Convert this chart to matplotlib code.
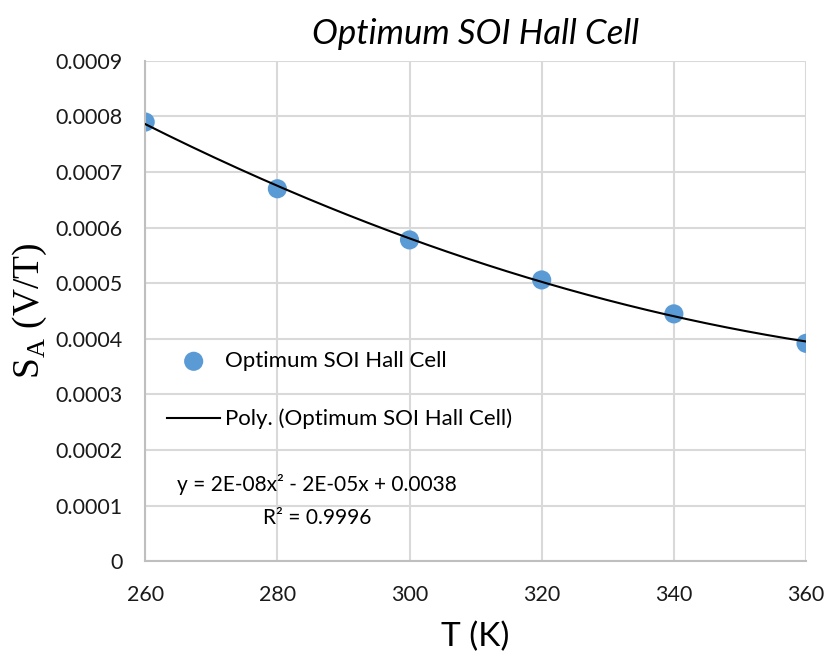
import numpy as np
from matplotlib import pyplot as plt

temps = [260, 280, 300, 320, 340, 360]
sensitivity = [0.000790, 0.000670, 0.000578, 0.000506, 0.000445, 0.000392]

series_name = "Optimum SOI Hall Cell"
trend_name = "Poly. (Optimum SOI Hall Cell)"
equation = "y = 2E-08x² - 2E-05x + 0.0038"
r_squared = "R² = 0.9996"
y_ticks = [0, 0.0001, 0.0002, 0.0003, 0.0004, 0.0005, 0.0006, 0.0007, 0.0008, 0.0009]
x_ticks = [260, 280, 300, 320, 340, 360]

plt.rcParams['font.family'] = ['Lato', 'DejaVu Sans']


def trend(x, y):
    # second order polynomial trendline through the measured points
    coeffs = np.polyfit(x, y, 2)
    xs = np.linspace(min(x), max(x), 200)
    return xs, np.polyval(coeffs, xs)


def plot():
    fig = plt.figure(figsize=(8.25, 6.69), dpi=100)
    ax = fig.add_axes([0.176, 0.161, 0.801, 0.748])

    xs, ys = trend(temps, sensitivity)
    ax.plot(xs, ys, color="black", lw=1.5, zorder=3)
    ax.scatter(temps, sensitivity, s=190, color="#5b9bd5", zorder=2, edgecolors="none")

    ax.set_xlim(260, 360)
    ax.set_ylim(0, 0.0009)
    ax.set_xticks(x_ticks)
    ax.set_yticks(y_ticks)
    ax.set_yticklabels(["0" if v == 0 else "%.4f" % v for v in y_ticks])
    ax.grid(True, color="#d9d9d9", lw=1.5)
    ax.set_axisbelow(True)
    for side in ["top", "right"]:
        ax.spines[side].set_visible(False)
    for side in ["left", "bottom"]:
        ax.spines[side].set_color("#bfbfbf")
        ax.spines[side].set_linewidth(1.5)
    ax.tick_params(length=0, labelsize=15.5, colors="#1a1a1a")
    ax.tick_params(axis="y", pad=16)
    ax.tick_params(axis="x", pad=17)

    ax.set_title(series_name, fontsize=25, style="italic", pad=12)
    ax.set_xlabel("T (K)", fontsize=24, labelpad=12)
    ax.set_ylabel(r"S$_{\mathregular{A}}$ (V/T)", fontsize=27,
                  fontfamily="Liberation Serif", labelpad=5)

    # legend sits inside the plot without a frame
    ax.scatter([], [], s=190, color="#5b9bd5", edgecolors="none", label=series_name)
    ax.plot([], [], color="black", lw=1.5, label=trend_name)
    ax.legend(loc="upper left", bbox_to_anchor=(0.033, 0.42), frameon=False,
              fontsize=16, handlelength=2.4, handletextpad=0.2, labelspacing=1.7,
              borderaxespad=0, borderpad=0)

    ax.text(0.26, 0.154, equation, transform=ax.transAxes, ha="center", va="center", fontsize=15)
    ax.text(0.26, 0.086, r_squared, transform=ax.transAxes, ha="center", va="center", fontsize=15)

    fig.savefig("out.png")


if __name__ == "__main__":
    plot()
